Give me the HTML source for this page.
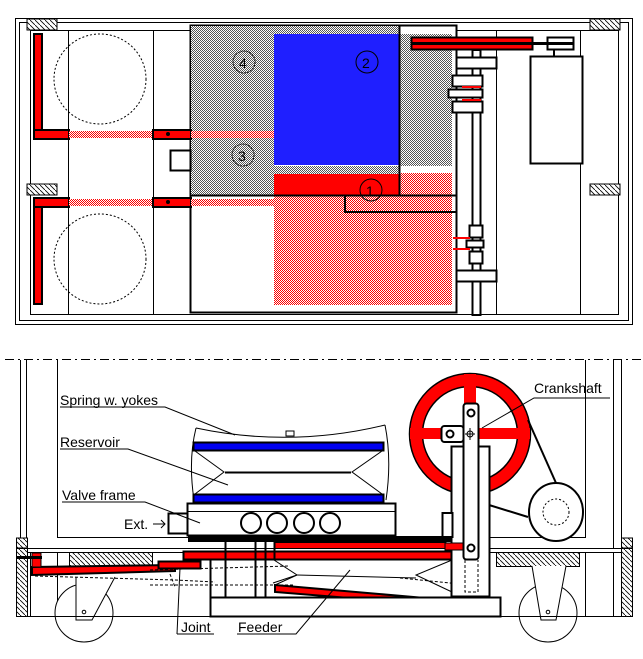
<!DOCTYPE html>
<html><head><meta charset="utf-8"><style>
html,body{margin:0;padding:0;background:#fff}
svg{display:block}
text{font-family:"Liberation Sans",sans-serif;font-size:14px;fill:#000}
</style></head><body>
<svg width="643" height="659" viewBox="0 0 643 659" xmlns="http://www.w3.org/2000/svg">
<defs>
<pattern id="h" width="5" height="5" patternUnits="userSpaceOnUse"><rect width="5" height="5" fill="#fff"/><path d="M0 0L5 5" stroke="#000" stroke-width="0.8"/></pattern>
<pattern id="g" width="2" height="2" patternUnits="userSpaceOnUse"><rect width="2" height="2" fill="#fff"/><rect width="1" height="1" fill="#555"/><rect x="1" y="1" width="1" height="1" fill="#555"/></pattern>
<pattern id="p" width="2" height="2" patternUnits="userSpaceOnUse"><rect width="2" height="2" fill="#fff"/><rect width="1" height="1" fill="#f00"/><rect x="1" y="1" width="1" height="1" fill="#f00"/></pattern>
</defs>
<g fill="none" stroke="#000" stroke-width="1">
<rect x="15.5" y="18.5" width="617" height="306"/>
<rect x="19.5" y="22.5" width="609" height="298"/>
<rect x="30.5" y="30.5" width="588" height="284"/>
<line x1="68.5" y1="30" x2="68.5" y2="315"/><line x1="153.5" y1="30" x2="153.5" y2="315"/>
<line x1="496.5" y1="30" x2="496.5" y2="315"/><line x1="580.5" y1="30" x2="580.5" y2="315"/>
<rect x="27" y="19" width="30" height="11" fill="url(#h)"/><rect x="590" y="19" width="30" height="11" fill="url(#h)"/>
<rect x="27" y="184" width="30" height="11" fill="url(#h)"/><rect x="590" y="184" width="30" height="11" fill="url(#h)"/>
<ellipse cx="100" cy="79" rx="46" ry="45" stroke-dasharray="2,2"/>
<ellipse cx="100" cy="259" rx="46" ry="45" stroke-dasharray="2,2"/>
<rect x="190.5" y="25.5" width="266" height="287" fill="#fff" stroke-width="2"/>
<rect x="191" y="26" width="83" height="169" fill="url(#g)" stroke="none"/>
<rect x="274" y="26" width="126" height="8" fill="url(#g)" stroke="none"/>
<rect x="274" y="34" width="126" height="131" fill="#1f1fff" stroke="none"/>
<rect x="400" y="34" width="52" height="132" fill="url(#g)" stroke="none"/>
<rect x="274" y="166" width="126" height="8" fill="url(#g)" stroke="none"/>
<rect x="400" y="173" width="52" height="8" fill="url(#p)" stroke="none"/>
<rect x="274" y="174" width="126" height="21" fill="#f00" stroke="none"/>
<rect x="400" y="181" width="52" height="14" fill="url(#p)" stroke="none"/>
<rect x="274" y="195" width="178" height="110" fill="url(#p)" stroke="none"/>
<line x1="399.5" y1="26" x2="399.5" y2="195" stroke-width="2"/>
<line x1="191" y1="195.5" x2="456" y2="195.5" stroke-width="2"/>
<polyline points="345,195 345,212 456,212" stroke-width="2"/>
<circle cx="244" cy="62" r="11" stroke-dasharray="2,1"/><text x="239" y="68" stroke="none">4</text>
<circle cx="367" cy="62" r="11"/><text x="362" y="68" stroke="none">2</text>
<circle cx="243" cy="155" r="11" stroke-dasharray="2,1"/><text x="238" y="161" stroke="none">3</text>
<circle cx="371" cy="190" r="11"/><text x="366" y="196" stroke="none">1</text>
<rect x="170.5" y="150.5" width="20" height="20" stroke-width="2"/>
<rect x="34" y="34" width="8" height="104" fill="#f00" stroke-width="2"/>
<rect x="34" y="130" width="35" height="9" fill="#f00" stroke-width="2"/>
<rect x="69" y="131" width="84" height="7" fill="url(#p)" stroke="none"/>
<rect x="153" y="130" width="38" height="9" fill="#f00" stroke-width="2"/>
<rect x="191" y="131" width="83" height="7" fill="url(#p)" stroke="none"/>
<circle cx="168" cy="134" r="1.5" fill="#000"/>
<rect x="34" y="198" width="8" height="106" fill="#f00" stroke-width="2"/>
<rect x="34" y="198" width="35" height="9" fill="#f00" stroke-width="2"/>
<rect x="69" y="199" width="84" height="7" fill="url(#p)" stroke="none"/>
<rect x="153" y="198" width="38" height="9" fill="#f00" stroke-width="2"/>
<rect x="191" y="199" width="83" height="7" fill="url(#p)" stroke="none"/>
<circle cx="168" cy="202" r="1.5" fill="#000"/>
<rect x="472.5" y="50" width="8" height="265" fill="#fff" stroke-width="2"/>
<rect x="456.5" y="57.5" width="40" height="11" fill="#fff" stroke-width="2"/>
<rect x="452.5" y="75.5" width="30" height="11" fill="#fff" stroke-width="2"/>
<rect x="452.5" y="101.5" width="30" height="11" fill="#fff" stroke-width="2"/>
<rect x="448.5" y="89.5" width="34" height="8" fill="#fff" stroke-width="2"/>
<line x1="462" y1="87" x2="481" y2="87" stroke="#f00" stroke-width="2"/><line x1="462" y1="100" x2="481" y2="100" stroke="#f00" stroke-width="2"/>
<rect x="469.5" y="225.5" width="13" height="12" fill="#fff" stroke-width="2"/>
<rect x="466.5" y="240.5" width="17" height="7" fill="#fff" stroke-width="2"/>
<rect x="469.5" y="251.5" width="13" height="12" fill="#fff" stroke-width="2"/>
<line x1="453" y1="238" x2="470" y2="238" stroke="#f00" stroke-width="2"/><line x1="453" y1="249" x2="470" y2="249" stroke="#f00" stroke-width="2"/>
<rect x="456.5" y="270.5" width="40" height="11" fill="#fff" stroke-width="2"/>
<rect x="411.5" y="37.5" width="121" height="12" fill="#f00" stroke-width="2"/>
<rect x="547.5" y="37.5" width="26" height="12" fill="#fff" stroke-width="2"/>
<line x1="412" y1="43.5" x2="573" y2="43.5" stroke-width="3"/>
<rect x="530.5" y="56.5" width="52" height="107" fill="#fff" stroke-width="2"/>
<line x1="554" y1="50" x2="554" y2="56" stroke-width="2"/>

<line x1="5" y1="359.5" x2="643" y2="359.5" stroke-dasharray="9,4,2,4"/>
<line x1="20.5" y1="360" x2="20.5" y2="548"/><line x1="26.5" y1="360" x2="26.5" y2="548"/><line x1="57.5" y1="360" x2="57.5" y2="537"/>
<line x1="585.5" y1="360" x2="585.5" y2="537"/><line x1="613.5" y1="360" x2="613.5" y2="548"/><line x1="621.5" y1="360" x2="621.5" y2="548"/>
<line x1="57" y1="537.5" x2="188" y2="537.5"/><line x1="490" y1="537.5" x2="586" y2="537.5"/>
<line x1="16" y1="548.5" x2="632" y2="548.5"/><line x1="16" y1="552.5" x2="632" y2="552.5"/>
<rect x="16.5" y="548.5" width="11" height="68" fill="url(#h)"/><rect x="621.5" y="548.5" width="11" height="68" fill="url(#h)"/>
<rect x="16.5" y="538" width="11" height="10" fill="url(#h)"/><rect x="621.5" y="538" width="11" height="10" fill="url(#h)"/>
<rect x="69.5" y="552.5" width="83" height="14" fill="url(#h)"/><rect x="496.5" y="552.5" width="83" height="14" fill="url(#h)"/>
<line x1="57.5" y1="552" x2="57.5" y2="616"/><line x1="30.5" y1="552" x2="30.5" y2="616"/>
<line x1="585.5" y1="552" x2="585.5" y2="616"/><line x1="613.5" y1="552" x2="613.5" y2="616"/>
<circle cx="84" cy="613" r="29" fill="#fff"/><circle cx="548" cy="613" r="29" fill="#fff"/>
<polyline points="76,577 76,620 92,620 115,577" fill="#fff"/><circle cx="84" cy="612" r="1.8"/>
<polyline points="532,566 541,620 556,620 566,566" fill="#fff"/><circle cx="548" cy="612" r="1.8"/>
<line x1="16" y1="616.5" x2="632" y2="616.5"/>
<path d="M196 428 Q290 448 385 425"/>
<path d="M196 428 Q188 460 194 500 M385 425 Q392 460 386 500"/>
<rect x="286" y="431" width="8" height="5" fill="#fff"/>
<rect x="193.5" y="442.5" width="190" height="8" fill="#0000f0" stroke-width="2"/>
<rect x="193.5" y="494.5" width="190" height="8" fill="#0000f0" stroke-width="2"/>
<polyline points="195,451 224,472 195,494"/><polyline points="382,451 352,472 382,494"/>
<line x1="225" y1="472.5" x2="351" y2="472.5" stroke-width="2"/>
<rect x="187.5" y="503.5" width="208" height="32" fill="#fff" stroke-width="2"/>
<line x1="188" y1="511.5" x2="395" y2="511.5"/>
<circle cx="251" cy="523" r="10" stroke-width="2"/><circle cx="277" cy="523" r="10" stroke-width="2"/><circle cx="304" cy="523" r="10" stroke-width="2"/><circle cx="330" cy="523" r="10" stroke-width="2"/>
<rect x="168.5" y="513.5" width="19" height="20" fill="#fff" stroke-width="2"/>
<rect x="188" y="536" width="268" height="6" fill="#000" stroke="none"/>
<rect x="274" y="542.5" width="172" height="6" fill="#f00" stroke="#000"/>
<rect x="183.5" y="551.5" width="270" height="8" fill="#f00" stroke-width="2"/>
<line x1="274.5" y1="542" x2="274.5" y2="560" stroke-width="2"/>
<line x1="210.5" y1="560" x2="210.5" y2="597" stroke-width="2"/><line x1="225.5" y1="542" x2="225.5" y2="597" stroke-width="2"/>
<line x1="255.5" y1="542" x2="255.5" y2="597" stroke-width="2"/><line x1="265.5" y1="542" x2="265.5" y2="597" stroke-width="2"/>
<polyline points="274,560 297,575 273,583"/><polyline points="452,560 416,575 452,592"/>
<line x1="297" y1="575" x2="416" y2="578"/>
<polygon points="275,585 448,600 448,606 275,592" fill="#f00" stroke-width="2"/>
<line x1="275" y1="585" x2="297" y2="575"/>
<rect x="210.5" y="597.5" width="290" height="19" fill="#fff" stroke-width="2"/>
<polygon points="32,567 175,565 175,571 32,575" fill="#f00" stroke-width="2"/>
<rect x="32" y="553" width="9" height="14" fill="#f00"/>
<line x1="16" y1="557.5" x2="42" y2="557.5" stroke-width="3"/>
<rect x="158.5" y="561.5" width="42" height="7" fill="#f00" stroke-width="2"/>
<path d="M35 576 L175 580 L215 582" stroke-dasharray="3,2"/>
<path d="M150 570 L290 566 M150 585 L295 585 M170 574 L175 587" stroke-dasharray="3,2"/>
<path d="M400 578 L470 585 L470 595" stroke-dasharray="3,2"/>
<circle cx="470" cy="434" r="54" stroke="#f00" stroke-width="13"/>
<circle cx="470" cy="434" r="60.5" stroke-width="1.5"/>
<circle cx="470" cy="434" r="47.5" stroke-width="1.5"/>
<rect x="464" y="374" width="12" height="122" fill="#f00" stroke="none"/>
<rect x="410" y="428" width="120" height="11" fill="#f00" stroke="none"/>
<rect x="451.5" y="446.5" width="38" height="150" fill="#fff" stroke-width="2"/>
<rect x="441.5" y="426" width="22" height="16" rx="3" fill="#fff" stroke-width="2"/>
<circle cx="450" cy="434" r="3.5" stroke-width="2"/>
<rect x="463.5" y="403.5" width="15" height="156" rx="3" fill="#fff" stroke-width="2"/>
<circle cx="471" cy="413" r="3.5" stroke-width="2"/><circle cx="471" cy="548" r="3.5" stroke-width="2"/>
<circle cx="470" cy="434" r="3"/><line x1="465" y1="434" x2="475" y2="434"/><line x1="470" y1="428" x2="470" y2="440"/>
<path d="M465 560 L465 592 L478 592 L478 560" stroke-dasharray="3,2"/>
<rect x="445" y="543" width="18" height="7" fill="#f00"/>
<rect x="442.5" y="513" width="10" height="24" fill="#fff" stroke-width="2"/>
<line x1="528" y1="420" x2="556" y2="483" stroke-width="2"/><line x1="489" y1="505" x2="528" y2="517" stroke-width="2"/>
<ellipse cx="556" cy="512" rx="27" ry="29" fill="#fff" stroke-width="2"/>
<circle cx="556" cy="512" r="13" stroke-dasharray="2,2"/>
<polyline points="60,407 165,407 235,435"/>
<polyline points="60,449 128,449 228,485"/>
<polyline points="62,502 145,502 200,523"/>
<line x1="153" y1="524" x2="165" y2="524"/><polyline points="161,520 165,524 161,528"/>
<polyline points="610,398 534,398 482,428"/>
<polyline points="177,634 180,568"/><polyline points="177,634 214,634"/>
<polyline points="237,634 296,634 350,570"/>
</g>
<text x="60" y="405">Spring w. yokes</text>
<text x="60" y="447">Reservoir</text>
<text x="62" y="500">Valve frame</text>
<text x="124" y="529">Ext.</text>
<text x="534" y="393">Crankshaft</text>
<text x="181" y="632">Joint</text>
<text x="238" y="632">Feeder</text>
</svg>
</body></html>
